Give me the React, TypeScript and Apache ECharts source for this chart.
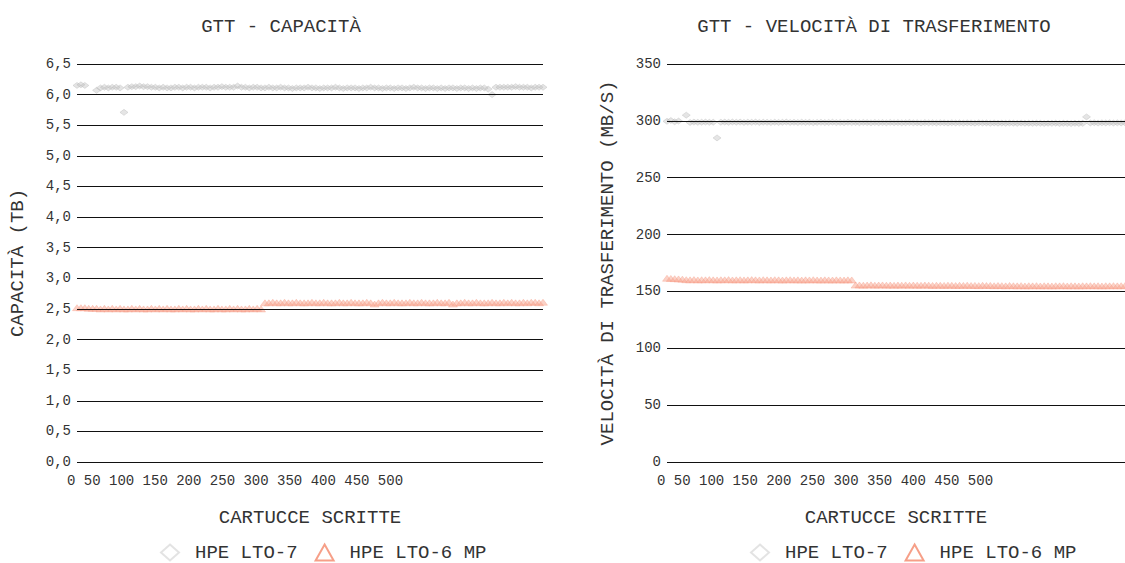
import React, { useEffect, useRef } from 'react';
import * as echarts from 'echarts';

const FONT = 'Liberation Mono';
const TEXT = '#333';

const titles = ['GTT - CAPACITÀ', 'GTT - VELOCITÀ DI TRASFERIMENTO'];
const yNames = ['CAPACITÀ (TB)', 'VELOCITÀ DI TRASFERIMENTO (MB/S)'];
const xName = 'CARTUCCE SCRITTE';
const seriesNames = ['HPE LTO-7', 'HPE LTO-6 MP'];
const xTickLabels = ['0', '50', '100', '150', '200', '250', '300', '350', '400', '450', '500'];

// cartridge indices (categories)
const cartridges = Array.from({ length: 120 }, (_, i) => String(i + 1));

const capacityLTO7 = [
  6.15, 6.16, 6.15, null, null, 6.07, 6.11, 6.12, 6.11, 6.12,
  6.12, 6.11, 5.71, 6.12, 6.13, 6.13, 6.14, 6.13, 6.13, 6.12,
  6.12, 6.11, 6.12, 6.11, 6.11, 6.12, 6.12, 6.11, 6.12, 6.12,
  6.11, 6.12, 6.12, 6.12, 6.11, 6.12, 6.12, 6.13, 6.12, 6.12,
  6.12, 6.14, 6.12, 6.12, 6.11, 6.12, 6.12, 6.11, 6.11, 6.12,
  6.11, 6.11, 6.12, 6.11, 6.11, 6.10, 6.11, 6.11, 6.11, 6.12,
  6.11, 6.11, 6.10, 6.11, 6.11, 6.11, 6.12, 6.11, 6.10, 6.11,
  6.11, 6.11, 6.10, 6.11, 6.11, 6.12, 6.11, 6.11, 6.10, 6.11,
  6.11, 6.10, 6.11, 6.11, 6.10, 6.11, 6.12, 6.11, 6.11, 6.10,
  6.11, 6.11, 6.10, 6.11, 6.10, 6.11, 6.11, 6.10, 6.11, 6.11,
  6.10, 6.11, 6.10, 6.11, 6.11, 6.09, 6.00, 6.12, 6.12, 6.12,
  6.12, 6.12, 6.13, 6.12, 6.12, 6.12, 6.11, 6.12, 6.12, 6.12,
];

const capacityLTO6 = [
  2.52, 2.52, 2.52, 2.51, 2.51, 2.51, 2.50, 2.51, 2.50, 2.51,
  2.50, 2.51, 2.50, 2.50, 2.51, 2.50, 2.51, 2.50, 2.50, 2.51,
  2.50, 2.51, 2.50, 2.51, 2.50, 2.50, 2.51, 2.50, 2.51, 2.50,
  2.50, 2.51, 2.50, 2.51, 2.50, 2.50, 2.51, 2.50, 2.50, 2.51,
  2.50, 2.51, 2.50, 2.50, 2.51, 2.50, 2.51, 2.50, 2.60, 2.60,
  2.61, 2.60, 2.60, 2.61, 2.60, 2.60, 2.61, 2.60, 2.60, 2.60,
  2.61, 2.60, 2.60, 2.61, 2.60, 2.60, 2.60, 2.61, 2.60, 2.60,
  2.61, 2.60, 2.60, 2.60, 2.61, 2.60, 2.58, 2.60, 2.61, 2.60,
  2.60, 2.61, 2.60, 2.60, 2.60, 2.61, 2.60, 2.60, 2.61, 2.60,
  2.60, 2.60, 2.61, 2.60, 2.60, 2.61, 2.58, 2.60, 2.60, 2.61,
  2.60, 2.60, 2.61, 2.60, 2.60, 2.60, 2.61, 2.60, 2.60, 2.61,
  2.60, 2.61, 2.60, 2.60, 2.61, 2.60, 2.61, 2.61, 2.60, 2.61,
];

const speedLTO7 = [
  299.6, 300.3, 299.2, 299.8, null, 305.0, 298.6, 298.9, 298.7, 298.8,
  298.9, 298.7, 298.8, 285.0, 298.8, 298.9, 298.7, 299.0, 298.8, 298.9,
  298.6, 298.8, 298.7, 298.9, 298.6, 298.8, 298.7, 298.5, 298.8, 298.6,
  298.7, 298.9, 298.6, 298.7, 298.5, 298.8, 298.6, 298.7, 298.4, 298.6,
  298.7, 298.5, 298.6, 298.8, 298.5, 298.6, 298.4, 298.7, 298.5, 298.6,
  298.4, 298.6, 298.5, 298.3, 298.6, 298.4, 298.5, 298.3, 298.6, 298.4,
  298.5, 298.3, 298.4, 298.6, 298.3, 298.4, 298.2, 298.5, 298.3, 298.4,
  298.2, 298.4, 298.3, 298.1, 298.4, 298.2, 298.3, 298.1, 298.3, 298.2,
  298.0, 298.3, 298.1, 298.2, 297.9, 298.2, 298.0, 298.1, 297.9, 298.1,
  298.0, 297.8, 298.1, 297.9, 298.0, 297.8, 298.0, 297.9, 297.7, 297.9,
  297.8, 298.0, 297.7, 297.9, 297.8, 297.6, 297.9, 297.7, 297.8, 303.5,
  298.2, 298.4, 298.1, 298.3, 298.2, 298.4, 298.1, 298.3, 298.2, 298.3,
];

const speedLTO6 = [
  161.6, 161.4, 161.2, 161.0, 160.8, 160.3, 160.2, 160.4, 160.1, 160.3,
  160.2, 160.4, 160.2, 160.1, 160.3, 160.2, 160.4, 160.1, 160.2, 160.3,
  160.1, 160.2, 160.4, 160.2, 160.1, 160.3, 160.2, 160.1, 160.3, 160.2,
  160.0, 160.2, 160.3, 160.1, 160.2, 160.0, 160.2, 160.1, 160.3, 160.1,
  160.0, 160.2, 160.1, 160.0, 160.2, 160.1, 160.0, 160.2, 160.1, 155.6,
  155.7, 155.5, 155.6, 155.8, 155.5, 155.6, 155.7, 155.5, 155.6, 155.4,
  155.6, 155.5, 155.7, 155.4, 155.6, 155.5, 155.4, 155.6, 155.5, 155.3,
  155.5, 155.4, 155.3, 155.5, 155.4, 155.2, 155.4, 155.3, 155.5, 155.2,
  155.3, 155.1, 155.4, 155.2, 155.3, 155.0, 155.2, 155.1, 154.9, 155.2,
  155.0, 154.9, 155.1, 154.8, 155.0, 154.9, 155.1, 154.8, 155.0, 154.9,
  154.8, 155.0, 154.9, 155.1, 154.8, 155.0, 154.9, 154.8, 155.0, 154.9,
  155.1, 154.9, 155.0, 154.8, 155.0, 154.9, 155.1, 154.9, 155.0, 155.1,
];

const GRAY_FILL = 'rgba(190,190,190,0.5)';
const GRAY_LINE = 'rgba(175,175,175,0.7)';
const ORANGE_FILL = 'rgba(247,160,138,0.6)';
const ORANGE_LINE = 'rgba(247,160,138,0.8)';

export default function App() {
  const ref = useRef<HTMLDivElement>(null);
  useEffect(() => {
    if (!ref.current) return;
    const chart = echarts.init(ref.current, null, { renderer: 'svg' });
    const textBase = { fontFamily: FONT, color: TEXT };
    const grids = [
      { left: 77, top: 64, width: 466, height: 398 },
      { left: 667, top: 64, width: 458, height: 398 },
    ];
    const xAxis = [0, 1].map((g) => ({
      type: 'category',
      gridIndex: g,
      data: cartridges,
      boundaryGap: false,
      name: xName,
      nameLocation: 'middle',
      nameGap: 46,
      nameTextStyle: { ...textBase, fontSize: 19 },
      axisLine: { show: false },
      axisTick: { show: false },
      splitLine: { show: false },
      axisLabel: {
        ...textBase,
        fontSize: 14,
        margin: 12,
        align: 'left',
        padding: [0, 0, 0, -10],
        interval: (idx: number) => idx === 0,
        formatter: () => xTickLabels.join(' '),
      },
    }));
    const yAxis = [
      { min: 0, max: 6.5, interval: 0.5 },
      { min: 0, max: 350, interval: 50 },
    ].map((a, i) => ({
      type: 'value',
      gridIndex: i,
      min: a.min,
      max: a.max,
      interval: a.interval,
      z: 5,
      name: yNames[i],
      nameLocation: 'middle',
      nameGap: 50,
      nameTextStyle: { ...textBase, fontSize: 19 },
      axisLine: { show: false },
      axisTick: { show: false },
      splitLine: { show: true, lineStyle: { color: '#111', width: 1 } },
      axisLabel: {
        ...textBase,
        fontSize: 14,
        margin: 6,
        formatter: (v: number) => (i === 0 ? v.toFixed(1).replace('.', ',') : String(v)),
      },
    }));
    const mk = (name: string, data: (number | null)[], g: number, lto7: boolean) => ({
      type: 'scatter',
      name,
      xAxisIndex: g,
      yAxisIndex: g,
      data,
      symbol: lto7 ? 'diamond' : 'triangle',
      symbolSize: lto7 ? [8, 6] : [9, 6],
      itemStyle: {
        color: lto7 ? GRAY_FILL : ORANGE_FILL,
        borderColor: lto7 ? GRAY_LINE : ORANGE_LINE,
        borderWidth: 0.6,
      },
    });
    const legendData = [
      { name: seriesNames[0], icon: 'diamond', itemStyle: { color: 'rgba(0,0,0,0)', borderColor: '#dcdcdc', borderWidth: 2 } },
      { name: seriesNames[1], icon: 'triangle', itemStyle: { color: 'rgba(0,0,0,0)', borderColor: '#f4876a', borderWidth: 2 } },
    ];
    const legend = [155, 745].map((left) => ({
      left,
      top: 538,
      itemWidth: 18,
      itemHeight: 16,
      itemGap: 17,
      data: legendData,
      textStyle: { ...textBase, fontSize: 19, padding: [0, 0, 0, 11] },
    }));
    chart.setOption({
      animation: false,
      backgroundColor: '#fff',
      title: [
        { text: titles[0], left: 276, top: 12, textAlign: 'center', textStyle: { ...textBase, fontSize: 19, fontWeight: 'normal' } },
        { text: titles[1], left: 869, top: 12, textAlign: 'center', textStyle: { ...textBase, fontSize: 19, fontWeight: 'normal' } },
      ],
      legend,
      grid: grids,
      xAxis,
      yAxis,
      series: [
        mk(seriesNames[0], capacityLTO7, 0, true),
        mk(seriesNames[1], capacityLTO6, 0, false),
        mk(seriesNames[0], speedLTO7, 1, true),
        mk(seriesNames[1], speedLTO6, 1, false),
      ],
    });
    return () => chart.dispose();
  }, []);
  return (
    <div
      ref={ref}
      style={{ position: 'fixed', left: 0, top: 0, width: 1125, height: 563 }}
    />
  );
}
